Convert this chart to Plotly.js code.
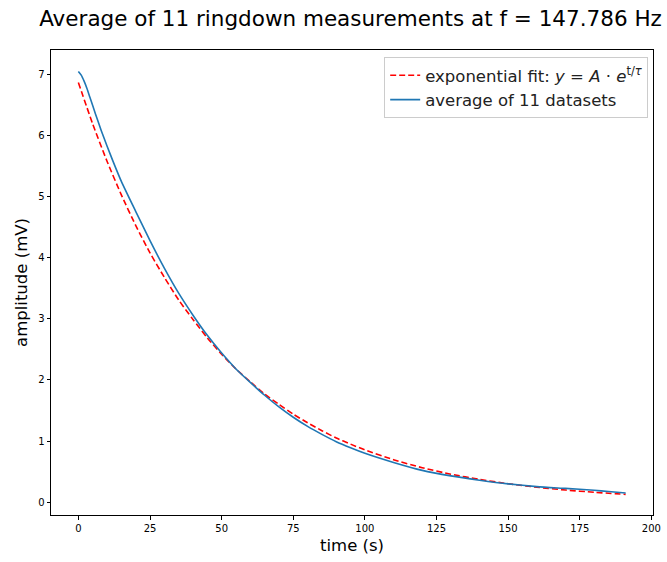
<!DOCTYPE html>
<html>
<head>
<meta charset="utf-8">
<script src="https://cdn.plot.ly/plotly-3.0.1.min.js"></script>
<style>html,body{margin:0;padding:0;background:#fff;}#chart{width:667px;height:562px;}</style>
</head>
<body>
<div id="chart"></div>
<script>
// time (s) for the averaged data
const avgTime = [0,1,2,3,4,5,6,8,10,12,15,20,25,30,35,40,45,50,55,60,65,70,75,80,85,90,95,100,110,120,130,140,150,160,170,180,185,191];
// averaged amplitude (mV)
const avgAmp = [7.05,6.99,6.89,6.77,6.63,6.49,6.35,6.08,5.83,5.59,5.25,4.76,4.28,3.83,3.42,3.06,2.73,2.44,2.18,1.96,1.75,1.56,1.39,1.24,1.11,0.99,0.89,0.80,0.65,0.52,0.43,0.36,0.30,0.255,0.225,0.195,0.175,0.15];
// time (s) for the fit curve
const fitTime = [0,5,10,15,20,25,30,35,40,45,50,55,60,65,70,75,80,85,90,95,100,110,120,130,140,150,160,170,180,191];
// fitted amplitude (mV)
const fitAmp = [6.87,6.19,5.58,5.03,4.53,4.08,3.68,3.31,2.99,2.69,2.42,2.18,1.97,1.77,1.60,1.44,1.30,1.17,1.05,0.95,0.855,0.695,0.564,0.458,0.372,0.302,0.245,0.199,0.162,0.128];
const xTicks = [0,25,50,75,100,125,150,175,200];
const yTicks = [0,1,2,3,4,5,6,7];

const traces = [
  {x: fitTime, y: fitAmp, type: 'scatter', mode: 'lines',
   name: 'exponential fit: <i>y</i> = <i>A</i> · <i>e</i><sup>t/<i>τ</i></sup>',
   line: {color: 'red', width: 1.6, dash: '6px,3px', shape: 'spline', smoothing: 0.6}},
  {x: avgTime, y: avgAmp, type: 'scatter', mode: 'lines',
   name: 'average of 11 datasets',
   line: {color: '#1f77b4', width: 1.6, shape: 'spline', smoothing: 0.6}}
];

const axisCommon = {
  showgrid: false, zeroline: false, showline: true, mirror: true,
  linecolor: 'black', linewidth: 1, ticks: 'outside', ticklen: 3.5,
  tickwidth: 1, tickcolor: 'black',
  tickfont: {family: 'DejaVu Sans', size: 10, color: 'black'}
};

const layout = {
  width: 667, height: 562,
  margin: {l: 51, r: 14, t: 50, b: 47},
  paper_bgcolor: 'white', plot_bgcolor: 'white',
  font: {family: 'DejaVu Sans', color: 'black'},
  title: {text: 'Average of 11 ringdown measurements at f = 147.786 Hz',
          font: {family: 'DejaVu Sans', size: 21.5, color: 'black'},
          x: 0.5255, xanchor: 'center', y: 0.967, yanchor: 'middle'},
  xaxis: Object.assign({}, axisCommon, {
    range: [-9.55, 200.55], tickvals: xTicks, ticktext: xTicks.map(String),
    title: {text: 'time (s)', font: {family: 'DejaVu Sans', size: 16.5, color: 'black'}, standoff: 6}
  }),
  yaxis: Object.assign({}, axisCommon, {
    range: [-0.21, 7.40], tickvals: yTicks, ticktext: yTicks.map(String),
    title: {text: 'amplitude (mV)', font: {family: 'DejaVu Sans', size: 16.5, color: 'black'}, standoff: 6}
  }),
  showlegend: true,
  legend: {x: 0.992, xanchor: 'right', y: 0.985, yanchor: 'top',
           bgcolor: 'rgba(255,255,255,0.8)', bordercolor: '#cccccc', borderwidth: 1,
           font: {family: 'DejaVu Sans', size: 16.5, color: '#222'},
           tracegroupgap: 2}
};

Plotly.newPlot('chart', traces, layout, {displayModeBar: false, staticPlot: true});
</script>
</body>
</html>
